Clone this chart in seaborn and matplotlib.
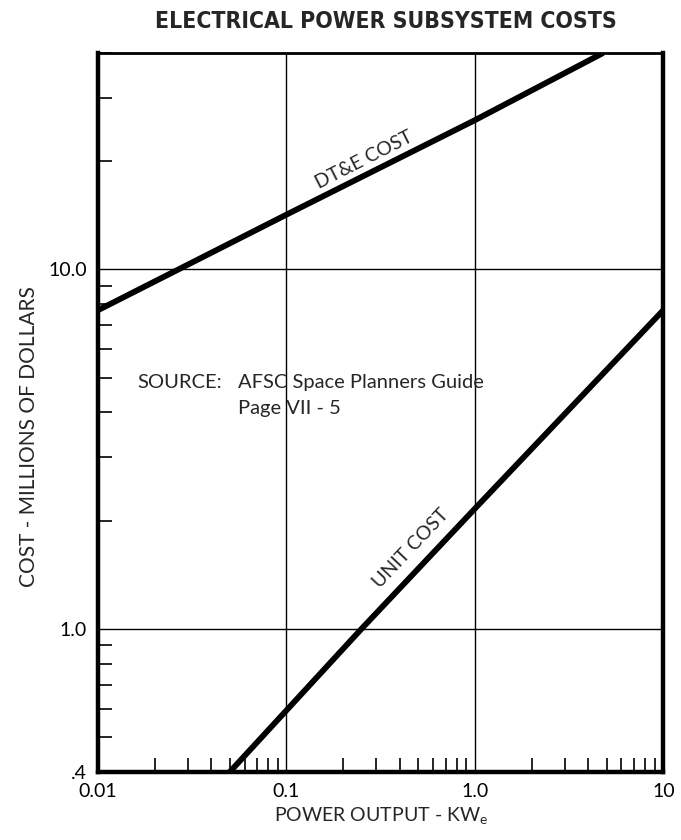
import numpy as np
import pandas as pd
import seaborn as sns
import matplotlib.pyplot as plt
from matplotlib.ticker import FixedLocator, LogLocator, NullFormatter

# values (log-log)
power_dte = [0.01, 0.1, 1.0, 4.8]
cost_dte = [7.7, 14.2, 26.0, 40.0]
power_unit = [0.05, 0.25, 1.0, 10.0]
cost_unit = [0.4, 1.0, 2.16, 7.7]

x_ticks = [0.01, 0.1, 1.0, 10]
x_labels = ["0.01", "0.1", "1.0", "10"]
y_ticks = [0.4, 1.0, 10.0]
y_labels = [".4", "1.0", "10.0"]

sns.set_style("white")
plt.rcParams['font.family'] = ['Lato', 'DejaVu Sans']

df = pd.concat([
    pd.DataFrame({"power": power_dte, "cost": cost_dte, "series": "DT&E COST"}),
    pd.DataFrame({"power": power_unit, "cost": cost_unit, "series": "UNIT COST"}),
])

fig = plt.figure(figsize=(6.81, 8.40), dpi=100)
ax = fig.add_axes([0.144, 0.081, 0.830, 0.856])

sns.lineplot(data=df, x="power", y="cost", units="series", estimator=None,
             color="black", lw=4.2, legend=False, ax=ax, solid_capstyle="butt")

ax.set_xscale("log")
ax.set_yscale("log")
ax.set_xlim(0.01, 10)
ax.set_ylim(0.4, 40)

ax.xaxis.set_major_locator(FixedLocator(x_ticks))
ax.set_xticklabels(x_labels)
ax.yaxis.set_major_locator(FixedLocator(y_ticks))
ax.set_yticklabels(y_labels)
ax.xaxis.set_minor_locator(LogLocator(base=10, subs=np.arange(2, 10)))
ax.yaxis.set_minor_locator(LogLocator(base=10, subs=np.arange(2, 10)))
ax.xaxis.set_minor_formatter(NullFormatter())
ax.yaxis.set_minor_formatter(NullFormatter())

ax.tick_params(which="both", bottom=True, left=True, top=False, right=False)
ax.tick_params(which="major", length=0, labelsize=14, pad=8, colors="black")
ax.tick_params(which="minor", direction="in", length=10, width=1.2, color="black")

ax.grid(which="major", color="black", lw=1.0)

for side in ["left", "bottom", "right"]:
    ax.spines[side].set_linewidth(3.2)
    ax.spines[side].set_color("black")
ax.spines["top"].set_linewidth(2.0)
ax.spines["top"].set_color("black")

ax.set_xlabel("POWER OUTPUT - KW$_\\mathregular{e}$", fontsize=14, labelpad=4)
ax.set_ylabel("COST - MILLIONS OF DOLLARS", fontsize=15, labelpad=10)
ax.yaxis.set_label_coords(-0.105, 0.466)

fig.suptitle("ELECTRICAL POWER SUBSYSTEM COSTS", x=0.567, y=0.988, va="top",
             fontsize=16.5, fontweight="bold", fontstretch="condensed",
             family=["DejaVu Sans"])

ax.text(0.259, 20.1, "DT&E COST", rotation=26.9, rotation_mode="anchor",
        ha="center", va="center", fontsize=14)
ax.text(0.458, 1.67, "UNIT COST", rotation=46.5, rotation_mode="anchor",
        ha="center", va="center", fontsize=14)

ax.text(0.069, 0.542, "SOURCE:", transform=ax.transAxes, ha="left", va="center", fontsize=14.5)
ax.text(0.247, 0.542, "AFSC Space Planners Guide", transform=ax.transAxes,
        ha="left", va="center", fontsize=14.5)
ax.text(0.247, 0.505, "Page VII - 5", transform=ax.transAxes,
        ha="left", va="center", fontsize=14.5)

fig.savefig("out.png", dpi=100, facecolor="white")
